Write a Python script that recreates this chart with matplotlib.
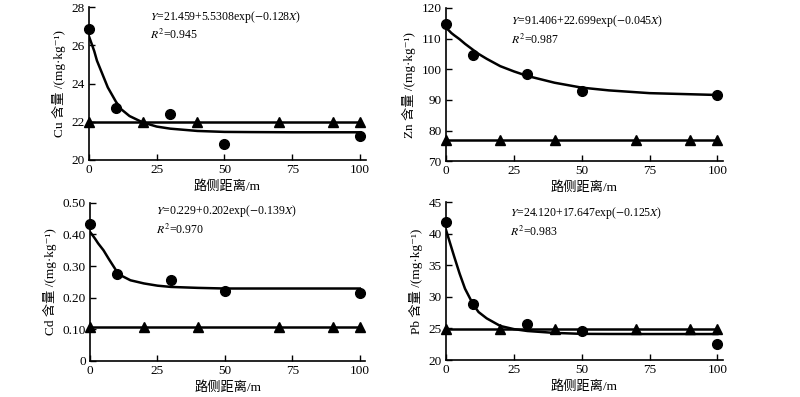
import numpy as np
import matplotlib.pyplot as plt

plt.rcParams['font.family'] = ['Liberation Serif', 'Noto Sans CJK SC', 'DejaVu Serif']
plt.rcParams['mathtext.fontset'] = 'stix'

# sampling distance from road (m)
dist = [0, 10, 30, 50, 100]
bg_dist = [0, 20, 40, 70, 90, 100]
curve_x = [0, 1, 2, 3, 5, 7, 10, 12, 15, 20, 25, 30, 40, 50, 60, 75, 100]

# measured contents (circles)
cu = [26.85, 22.72, 22.4, 20.86, 21.25]
zn = [114.9, 104.8, 98.3, 92.9, 91.6]
cd = [0.432, 0.274, 0.255, 0.221, 0.215]
pb = [41.8, 28.8, 25.7, 24.6, 22.5]

# background values (triangles)
cu_bg = [22.0] * 6
zn_bg = [77.0] * 6
cd_bg = [0.107] * 6
pb_bg = [24.85] * 6

# fitted curves
cu_fit = [26.5, 26.1, 25.7, 25.2, 24.5, 23.8, 23.05, 22.65, 22.3, 21.96, 21.75, 21.64, 21.52, 21.47, 21.46, 21.45, 21.45]
zn_fit = [113.5, 112.7, 111.8, 111.1, 109.8, 108.3, 106.3, 105.0, 103.4, 101.0, 99.3, 97.8, 95.6, 94.0, 93.1, 92.2, 91.6]
cd_fit = [0.408, 0.397, 0.385, 0.372, 0.35, 0.322, 0.282, 0.268, 0.255, 0.245, 0.238, 0.234, 0.231, 0.229, 0.229, 0.229, 0.229]
pb_fit = [40.6, 39.2, 37.8, 36.4, 33.7, 31.3, 28.8, 27.6, 26.6, 25.4, 24.9, 24.6, 24.3, 24.15, 24.13, 24.12, 24.12]

eqs = [r"$Y$=21.459+5.5308exp($-$0.128$X$)",
       r"$Y$=91.406+22.699exp($-$0.045$X$)",
       r"$Y$=0.229+0.202exp($-$0.139$X$)",
       r"$Y$=24.120+17.647exp($-$0.125$X$)"]
r2 = [r"$R^2$=0.945", r"$R^2$=0.987", r"$R^2$=0.970", r"$R^2$=0.983"]
ylabels = ["Cu 含量 /(mg·kg⁻¹)", "Zn 含量 /(mg·kg⁻¹)", "Cd 含量 /(mg·kg⁻¹)", "Pb 含量 /(mg·kg⁻¹)"]
yticks = [[20, 22, 24, 26, 28], [70, 80, 90, 100, 110, 120],
          [0, 0.1, 0.2, 0.3, 0.4, 0.5], [20, 25, 30, 35, 40, 45]]
ytlabels = [["20", "22", "24", "26", "28"], ["70", "80", "90", "100", "110", "120"],
            ["0", "0.10", "0.20", "0.30", "0.40", "0.50"], ["20", "25", "30", "35", "40", "45"]]

fig = plt.figure(figsize=(8, 3.97), dpi=100)
rects = [[0.111, 0.597, 0.346, 0.385],
         [0.5575, 0.594, 0.346, 0.386],
         [0.1125, 0.091, 0.344, 0.398],
         [0.5575, 0.093, 0.346, 0.398]]
# left x, top of text block (axes fraction)
text_pos = [(0.22, 0.99), (0.235, 0.965), (0.24, 1.0), (0.231, 0.98)]

meas = [cu, zn, cd, pb]
bgs = [cu_bg, zn_bg, cd_bg, pb_bg]
fits = [cu_fit, zn_fit, cd_fit, pb_fit]

for i in range(4):
    ax = fig.add_axes(rects[i])
    ax.plot(curve_x, fits[i], color='black', lw=1.8)
    ax.plot(bg_dist, bgs[i], color='black', lw=1.8, marker='^', ms=7, clip_on=False)
    ax.plot(dist, meas[i], 'o', color='black', ms=7, clip_on=False)
    ax.set_xlim(0, 102)
    ax.set_ylim(yticks[i][0], yticks[i][-1])
    ax.set_xticks([0, 25, 50, 75, 100])
    ax.set_yticks(yticks[i])
    ax.set_yticklabels(ytlabels[i])
    ax.spines['top'].set_visible(False)
    ax.spines['right'].set_visible(False)
    ax.spines['left'].set_linewidth(1.2)
    ax.spines['bottom'].set_linewidth(1.2)
    ax.tick_params(direction='in', length=4, width=1, labelsize=9.5, pad=3)
    ax.set_xlabel("路侧距离/m", fontsize=9.5, labelpad=3)
    ax.set_ylabel(ylabels[i], fontsize=9.5, labelpad=4)
    tx, ty = text_pos[i]
    ax.text(tx, ty, eqs[i] + "\n" + r2[i], transform=ax.transAxes, fontsize=8.5,
            va='top', ha='left', linespacing=1.3)

fig.savefig("out.png", dpi=100)
